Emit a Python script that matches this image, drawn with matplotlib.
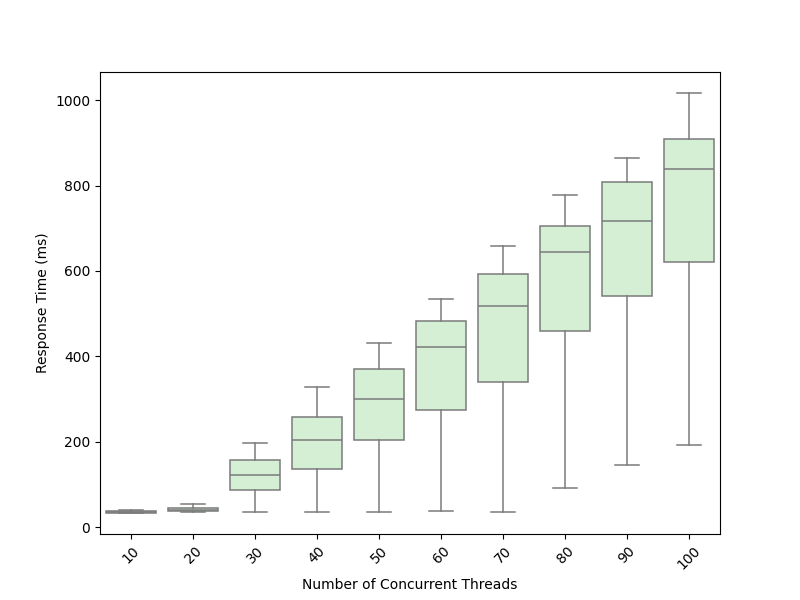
import matplotlib
matplotlib.use("Agg")
import matplotlib.pyplot as plt

threads = ["10", "20", "30", "40", "50", "60", "70", "80", "90", "100"]
whis_low = [33, 35, 35, 35, 35, 37, 35, 91, 145, 192]
q1 = [34, 37, 87, 135, 203, 275, 341, 460, 542, 622]
median = [35, 40, 121, 203, 301, 423, 517, 645, 718, 840]
q3 = [37, 44, 157, 257, 371, 484, 592, 706, 809, 910]
whis_high = [40, 55, 198, 329, 432, 535, 659, 779, 865, 1017]

stats = []
for i, lab in enumerate(threads):
    stats.append({
        "label": lab,
        "whislo": whis_low[i], "q1": q1[i], "med": median[i],
        "q3": q3[i], "whishi": whis_high[i], "fliers": [],
    })

fig, ax = plt.subplots(figsize=(8, 6), dpi=100)
line_col = "#7a7a7a"
lw = 1.1
ax.bxp(
    stats, positions=range(len(threads)), widths=0.8, patch_artist=True,
    showfliers=False,
    boxprops=dict(facecolor="#d5efd5", edgecolor=line_col, linewidth=lw),
    medianprops=dict(color=line_col, linewidth=lw),
    whiskerprops=dict(color=line_col, linewidth=lw),
    capprops=dict(color=line_col, linewidth=lw),
)
ax.set_xlim(-0.5, len(threads) - 0.5)
ax.set_xticks(range(len(threads)))
ax.set_xticklabels(threads, rotation=45)
ax.set_xlabel("Number of Concurrent Threads")
ax.set_ylabel("Response Time (ms)")

plt.savefig("out.png", dpi=100)
